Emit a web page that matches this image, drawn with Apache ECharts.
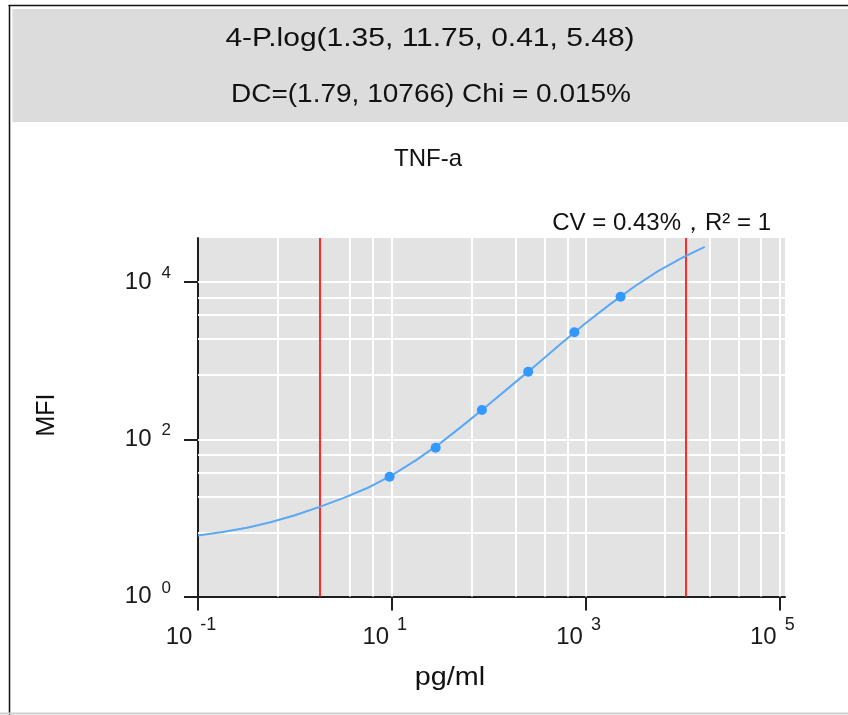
<!DOCTYPE html>
<html>
<head>
<meta charset="utf-8">
<title>TNF-a</title>
<script src="https://cdn.jsdelivr.net/npm/echarts@6/dist/echarts.min.js"></script>
<style>
html, body { margin: 0; padding: 0; background: #fff; }
#chart { width: 848px; height: 715px; }
</style>
</head>
<body>
<div id="chart"></div>
<script>
// 4-P.log fit parameters and detection limits, as printed in the header
var fitParams = [1.35, 11.75, 0.41, 5.48];
var dcLimits = [1.79, 10766];
var chiText = '0.015%';
var cvText = 'CV = 0.43%，R² = 1';

// standards: concentration (pg/ml) and MFI
var stdConc = [9.5, 28.4, 85.2, 256, 767, 2300];
var stdMfi = [33.4, 78, 236, 724, 2300, 6520];

// fitted curve, every quarter decade
var fitConc = [0.1, 0.18, 0.32, 0.56, 1, 1.8, 3.2, 5.6, 10, 18, 32, 56, 100, 180, 320, 560, 1000, 1800, 3200, 5600, 10000, 17000];
var fitMfi = [5.97, 6.6, 7.5, 8.8, 10.8, 13.8, 18, 24, 34.8, 54.8, 90, 155, 278, 507, 916, 1650, 3000, 5250, 8800, 13800, 20500, 28000];

// axis ticks and labels (10^n)
var xTicks = [0.1, 10, 1000, 100000];
var xTickExp = ['-1', '1', '3', '5'];
var yTicks = [1, 100, 10000];
var yTickExp = ['0', '2', '4'];

// white grid lines of the plot
var xGrid = [0.66, 3.65, 6.4, 10, 67, 190, 375, 650, 1000, 6600, 19000, 38000, 65000, 100000];
var yGrid = [6.4, 18.6, 38, 64, 100, 670, 1900, 3800, 6400, 10000];

var FONT = '"Liberation Sans", Arial, sans-serif';

function closestIndex(arr, v) {
	var best = 0;
	for(var i = 1; i < arr.length; i++) {
		if(Math.abs(Math.log(arr[i] / v)) < Math.abs(Math.log(arr[best] / v))) best = i;
	}
	return best;
}

function pairs(xs, ys) {
	var out = new Array();
	for(var i = 0; i < xs.length; i++) out.push([xs[i], ys[i]]);
	return out;
}

var gridLines = new Array();
for(var i = 0; i < xGrid.length; i++) gridLines.push({ xAxis: xGrid[i] });
for(var i = 0; i < yGrid.length; i++) gridLines.push({ yAxis: yGrid[i] });

var dcLines = new Array();
for(var i = 0; i < dcLimits.length; i++) dcLines.push({ xAxis: dcLimits[i] });

var axisColor = '#1e1e1e';
var labelColor = '#1a1a1a';

var chart = echarts.init(document.getElementById('chart'));
var option = {
	animation: false,
	textStyle: { fontFamily: FONT },
	grid: {
		left: 198,
		right: 63,
		top: 238,
		bottom: 118.5,
		show: true,
		backgroundColor: '#e3e3e3',
		borderWidth: 0
	},
	xAxis: {
		type: 'log',
		min: 0.1,
		max: 114500,
		axisLine: { lineStyle: { color: axisColor, width: 2 } },
		axisTick: { show: true, length: 14, customValues: xTicks, lineStyle: { color: axisColor, width: 2 } },
		axisLabel: {
			customValues: xTicks,
			margin: 20,
			padding: [0, 14, 0, 0],
			formatter: function(v) {
				return '{b|10}{s|' + xTickExp[closestIndex(xTicks, v)] + '}';
			},
			rich: {
				b: { fontSize: 24, lineHeight: 42, color: labelColor, fontFamily: FONT },
				s: { fontSize: 18, lineHeight: 18, verticalAlign: 'top', padding: [0, 0, 0, 8], color: labelColor, fontFamily: FONT }
			}
		},
		splitLine: { show: false },
		minorTick: { show: false }
	},
	yAxis: {
		type: 'log',
		min: 1,
		max: 36400,
		axisLine: { lineStyle: { color: axisColor, width: 2 } },
		axisTick: { show: true, length: 14, customValues: yTicks, lineStyle: { color: axisColor, width: 2 } },
		axisLabel: {
			customValues: yTicks,
			margin: 27,
			formatter: function(v) {
				return '{b|10}{s|' + yTickExp[closestIndex(yTicks, v)] + '}';
			},
			rich: {
				b: { fontSize: 24, lineHeight: 34, color: labelColor, fontFamily: FONT },
				s: { fontSize: 17, lineHeight: 17, verticalAlign: 'top', padding: [0, 0, 0, 10], color: labelColor, fontFamily: FONT }
			}
		},
		splitLine: { show: false },
		minorTick: { show: false }
	},
	series: [{
		name: 'grid',
		type: 'line',
		data: [],
		z: 1,
		silent: true,
		markLine: {
			z: 1,
			silent: true,
			symbol: ['none', 'none'],
			label: { show: false },
			emphasis: { disabled: true },
			lineStyle: { color: '#ffffff', width: 2, type: 'solid' },
			data: gridLines
		}
	}, {
		name: 'DC',
		type: 'line',
		data: [],
		z: 2,
		silent: true,
		markLine: {
			z: 2,
			silent: true,
			symbol: ['none', 'none'],
			label: { show: false },
			emphasis: { disabled: true },
			lineStyle: { color: '#ff2a2a', width: 2, type: 'solid' },
			data: dcLines
		}
	}, {
		name: 'fit',
		type: 'line',
		data: pairs(fitConc, fitMfi),
		smooth: false,
		showSymbol: false,
		symbol: 'none',
		z: 3,
		lineStyle: { color: '#5ba8f5', width: 2, join: 'round' }
	}, {
		name: 'standards',
		type: 'scatter',
		data: pairs(stdConc, stdMfi),
		symbolSize: 10,
		z: 4,
		itemStyle: { color: '#3399ff', opacity: 1 }
	}],
	graphic: [
		{ type: 'rect', silent: true, shape: { x: 12.5, y: 9, width: 836, height: 113 }, style: { fill: '#dcdcdc' } },
		{ type: 'line', silent: true, shape: { x1: 8.5, y1: 5.5, x2: 848, y2: 5.5 }, style: { stroke: '#111', lineWidth: 1.5 } },
		{ type: 'line', silent: true, shape: { x1: 9.5, y1: 5, x2: 9.5, y2: 715 }, style: { stroke: '#111', lineWidth: 1.5 } },
		{ type: 'line', silent: true, shape: { x1: 0, y1: 713.5, x2: 848, y2: 713.5 }, style: { stroke: '#cfcfcf', lineWidth: 2 } },
		{ type: 'text', x: 430, y: 39, scaleX: 1.2, silent: true,
			style: { text: '4-P.log(' + fitParams.join(', ') + ')', font: '25px ' + FONT, fill: '#111',
				align: 'center', verticalAlign: 'middle', textAlign: 'center', textVerticalAlign: 'middle' } },
		{ type: 'text', x: 431, y: 95, scaleX: 1.12, silent: true,
			style: { text: 'DC=(' + dcLimits.join(', ') + ') Chi = ' + chiText, font: '25px ' + FONT, fill: '#111',
				align: 'center', verticalAlign: 'middle', textAlign: 'center', textVerticalAlign: 'middle' } },
		{ type: 'text', x: 428, y: 159, silent: true,
			style: { text: 'TNF-a', font: '24px ' + FONT, fill: '#111',
				align: 'center', verticalAlign: 'middle', textAlign: 'center', textVerticalAlign: 'middle' } },
		{ type: 'text', x: 771, y: 223, silent: true,
			style: { text: cvText, font: '24px ' + FONT, fill: '#111',
				align: 'right', verticalAlign: 'middle', textAlign: 'right', textVerticalAlign: 'middle' } },
		{ type: 'text', x: 450, y: 678, scaleX: 1.15, silent: true,
			style: { text: 'pg/ml', font: '25px ' + FONT, fill: '#111',
				align: 'center', verticalAlign: 'middle', textAlign: 'center', textVerticalAlign: 'middle' } },
		{ type: 'text', x: 47.5, y: 415, rotation: Math.PI / 2, silent: true,
			style: { text: 'MFI', font: '25px ' + FONT, fill: '#111',
				align: 'center', verticalAlign: 'middle', textAlign: 'center', textVerticalAlign: 'middle' } }
	]
};
chart.setOption(option);
</script>
</body>
</html>
